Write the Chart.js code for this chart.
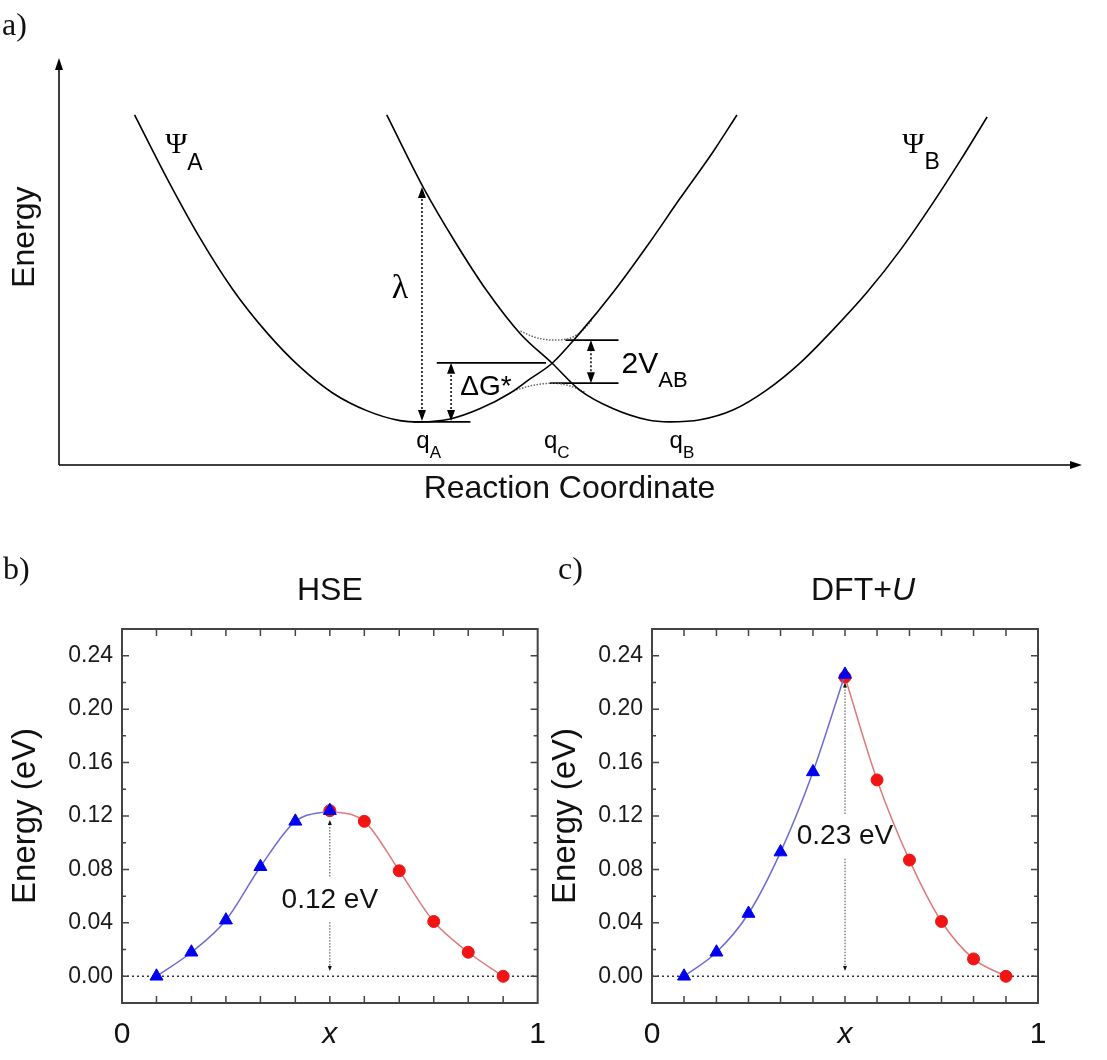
<!DOCTYPE html>
<html>
<head>
<meta charset="utf-8">
<script src="https://cdn.jsdelivr.net/npm/chart.js@4.4.1/dist/chart.umd.min.js"></script>
<style>
  html, body { margin: 0; padding: 0; background: #fff; }
  body { width: 1107px; height: 1060px; position: relative; overflow: hidden; }
  canvas { position: absolute; }
  #panelA { left: 0; top: 0; }
  #panelB { left: 0; top: 540px; }
  #panelC { left: 540px; top: 540px; }
  .tag { position: absolute; font: 32px 'Liberation Serif', 'Times New Roman', serif; line-height: 32px; color: #111; }
</style>
</head>
<body>
<canvas id="panelA" width="1107" height="520"></canvas>
<canvas id="panelB" width="560" height="520"></canvas>
<canvas id="panelC" width="567" height="520"></canvas>
<div class="tag" style="left:2px;top:8px">a)</div>
<div class="tag" style="left:3px;top:552px">b)</div>
<div class="tag" style="left:558px;top:552px">c)</div>
<script>
var FONT = "'Liberation Sans', Arial, Helvetica, sans-serif";
var SERIF = "'Liberation Serif', 'Times New Roman', serif";

// ---- panel a: diabatic curves, arbitrary units (reaction coordinate 0-10, energy 0-10) ----
var curveAx = [0.74, 1.06, 1.38, 1.70, 2.04, 2.36, 2.68, 3.02, 3.34, 3.54, 3.83, 4.12, 4.42, 4.61, 4.83, 5.10, 5.43, 5.76, 6.08, 6.41, 6.64];
var curveAy = [8.60, 7.03, 5.58, 4.32, 3.24, 2.41, 1.77, 1.33, 1.09, 1.06, 1.13, 1.38, 1.77, 2.11, 2.50, 3.24, 4.25, 5.38, 6.54, 7.71, 8.60];
var curveBx = [3.21, 3.57, 3.88, 4.19, 4.52, 4.83, 5.10, 5.43, 5.76, 5.98, 6.28, 6.60, 6.93, 7.26, 7.58, 7.91, 8.24, 8.56, 8.83, 9.09];
var curveBy = [8.60, 6.81, 5.48, 4.28, 3.22, 2.50, 1.84, 1.38, 1.11, 1.06, 1.11, 1.35, 1.84, 2.51, 3.32, 4.23, 5.28, 6.44, 7.49, 8.55];
// adiabatic split near the crossing (dotted)
var upperX = [4.52, 4.66, 4.84, 5.01, 5.12, 5.22];
var upperY = [3.29, 3.14, 3.07, 3.12, 3.29, 3.56];
var lowerX = [4.45, 4.61, 4.83, 5.01, 5.15];
var lowerY = [1.82, 1.94, 2.01, 1.94, 1.79];
// energy levels [x from, x to, energy]
var levels = [[3.47, 4.03, 1.06], [3.70, 4.77, 2.51], [4.96, 5.48, 3.07], [4.81, 5.48, 2.01]];
// double arrows [x, energy from, energy to]
var gaps = [[3.555, 1.08, 6.83], [3.84, 1.08, 2.51], [5.21, 2.01, 3.07]];

// ---- panels b, c: barrier along the path ----
var xImages1 = [0.083, 0.167, 0.25, 0.333, 0.417, 0.5];
var xImages2 = [0.5, 0.583, 0.667, 0.75, 0.833, 0.917];
var hseBlue = [0.000, 0.018, 0.042, 0.082, 0.116, 0.124];
var hseRed = [0.124, 0.116, 0.079, 0.041, 0.018, 0.000];
var dftBlue = [0.000, 0.018, 0.047, 0.093, 0.153, 0.226];
var dftRed = [0.224, 0.147, 0.087, 0.041, 0.013, 0.000];
var yTicks = [0, 0.04, 0.08, 0.12, 0.16, 0.20, 0.24];
var yMinor = [0.02, 0.06, 0.10, 0.14, 0.18, 0.22];
var xMarks = [0.083, 0.167, 0.25, 0.333, 0.417, 0.5, 0.583, 0.667, 0.75, 0.833, 0.917];
var xLabels = [0, 0.5, 1];

function xy(xs, ys) {
  return xs.map(function(v, i) { return {x: v, y: ys[i]}; });
}

function arrowHead(ctx, x, y, dir, w, h) {
  // dir = -1 points up, 1 points down
  ctx.beginPath();
  ctx.moveTo(x, y);
  ctx.lineTo(x - w / 2, y - dir * h);
  ctx.lineTo(x + w / 2, y - dir * h);
  ctx.closePath();
  ctx.fill();
}

function withSub(ctx, x, y, main, sub, mainFont, subFont, drop) {
  ctx.font = mainFont;
  ctx.fillText(main, x, y);
  var w = ctx.measureText(main).width;
  ctx.font = subFont;
  ctx.fillText(sub, x + w, y + drop);
}

// Draw axes arrows, arrows and labels for panel a
var marcusPlugin = {
  id: 'marcus',
  afterDatasetsDraw: function(chart) {
    var ctx = chart.ctx, a = chart.chartArea;
    var sx = chart.scales.x, sy = chart.scales.y;
    ctx.save();
    ctx.fillStyle = '#000';
    ctx.strokeStyle = '#000';
    ctx.lineWidth = 1.5;

    // axes with arrow heads
    ctx.beginPath();
    ctx.moveTo(a.left, a.bottom);
    ctx.lineTo(a.left, a.top + 8);
    ctx.moveTo(a.left, a.bottom);
    ctx.lineTo(a.right - 8, a.bottom);
    ctx.stroke();
    arrowHead(ctx, a.left, a.top, -1, 8, 12);
    ctx.beginPath();
    ctx.moveTo(a.right + 2, a.bottom);
    ctx.lineTo(a.right - 10, a.bottom - 4);
    ctx.lineTo(a.right - 10, a.bottom + 4);
    ctx.closePath();
    ctx.fill();

    // dotted double arrows
    gaps.forEach(function(g) {
      var px = sx.getPixelForValue(g[0]);
      var y0 = sy.getPixelForValue(g[1]), y1 = sy.getPixelForValue(g[2]);
      ctx.setLineDash([2, 2]);
      ctx.lineWidth = 1.5;
      ctx.beginPath();
      ctx.moveTo(px, y0 - 8);
      ctx.lineTo(px, y1 + 8);
      ctx.stroke();
      ctx.setLineDash([]);
      arrowHead(ctx, px, y1, -1, 8, 11);
      arrowHead(ctx, px, y0, 1, 8, 11);
    });

    // labels
    ctx.textAlign = 'left';
    ctx.textBaseline = 'alphabetic';
    var P = function(x, y) { return [sx.getPixelForValue(x), sy.getPixelForValue(y)]; };
    var p;
    p = P(1.04, 7.67); withSub(ctx, p[0], p[1], 'Ψ', 'A', '30px ' + SERIF, '23px ' + FONT, 17);
    p = P(8.26, 7.67); withSub(ctx, p[0], p[1], 'Ψ', 'B', '30px ' + SERIF, '23px ' + FONT, 16);
    p = P(3.26, 4.10); ctx.font = '34px ' + SERIF; ctx.fillText('λ', p[0], p[1]);
    p = P(3.93, 1.72); ctx.font = '28px ' + FONT; ctx.fillText('ΔG*', p[0], p[1]);
    p = P(5.51, 2.26); withSub(ctx, p[0], p[1], '2V', 'AB', '30px ' + FONT, '22px ' + FONT, 14);
    p = P(3.50, 0.42); withSub(ctx, p[0], p[1], 'q', 'A', '24px ' + FONT, '17px ' + FONT, 10);
    p = P(4.75, 0.42); withSub(ctx, p[0], p[1], 'q', 'C', '24px ' + FONT, '17px ' + FONT, 10);
    p = P(5.98, 0.42); withSub(ctx, p[0], p[1], 'q', 'B', '24px ' + FONT, '17px ' + FONT, 10);

    // vertical axis title
    ctx.translate(a.left - 34, sy.getPixelForValue(5.6));
    ctx.rotate(-Math.PI / 2);
    ctx.textAlign = 'center';
    ctx.textBaseline = 'middle';
    ctx.font = '32px ' + FONT;
    ctx.fillStyle = '#111';
    ctx.fillText('Energy', 0, 0);
    ctx.restore();
  }
};

var solid = {borderColor: '#000', borderWidth: 1.6, pointRadius: 0, cubicInterpolationMode: 'monotone'};
var dotted = {borderColor: '#666', borderWidth: 1.5, borderDash: [1.5, 1.5], pointRadius: 0, cubicInterpolationMode: 'monotone'};

var marcusSets = [
  Object.assign({data: xy(curveAx, curveAy)}, solid),
  Object.assign({data: xy(curveBx, curveBy)}, solid),
  Object.assign({data: xy(upperX, upperY)}, dotted),
  Object.assign({data: xy(lowerX, lowerY)}, dotted)
];
levels.forEach(function(l) {
  marcusSets.push({data: [{x: l[0], y: l[2]}, {x: l[1], y: l[2]}], borderColor: '#000', borderWidth: 1.8, pointRadius: 0});
});

new Chart(document.getElementById('panelA'), {
  type: 'line',
  data: {datasets: marcusSets},
  options: {
    responsive: false, animation: false, events: [],
    layout: {padding: {left: 59, right: 27, top: 58, bottom: 0}, autoPadding: false},
    scales: {
      x: {
        type: 'linear', min: 0, max: 10,
        grid: {display: false, drawTicks: false}, border: {display: false},
        ticks: {display: false},
        afterFit: function(s) { s.height = 55; },
        title: {display: true, text: 'Reaction Coordinate', color: '#111', font: {family: FONT, size: 32}, padding: {top: 0, bottom: 12}}
      },
      y: {type: 'linear', min: 0, max: 10, display: false}
    },
    plugins: {legend: {display: false}, tooltip: {enabled: false}}
  },
  plugins: [marcusPlugin]
});

// Frame, inward ticks, zero line, barrier arrow and title for panels b and c
var framePlugin = {
  id: 'frame',
  beforeDatasetsDraw: function(chart, args, o) {
    var ctx = chart.ctx, a = chart.chartArea;
    var sx = chart.scales.x, sy = chart.scales.y;
    ctx.save();
    ctx.strokeStyle = '#333';
    ctx.fillStyle = '#111';
    ctx.lineWidth = 1.5;
    ctx.setLineDash([2, 3]);
    var y0 = sy.getPixelForValue(0);
    ctx.beginPath();
    ctx.moveTo(a.left, y0);
    ctx.lineTo(a.right, y0);
    ctx.stroke();

    var xm = sx.getPixelForValue(o.arrow[0]);
    var yb = sy.getPixelForValue(o.arrow[1]), yt = sy.getPixelForValue(o.arrow[2]);
    var yl = sy.getPixelForValue(o.labelY);
    ctx.lineWidth = 1;
    ctx.strokeStyle = '#444';
    ctx.setLineDash([1.5, 1.5]);
    ctx.beginPath();
    ctx.moveTo(xm, yt + 4);
    ctx.lineTo(xm, yl - 22);
    ctx.moveTo(xm, yl + 22);
    ctx.lineTo(xm, yb - 4);
    ctx.stroke();
    ctx.setLineDash([]);
    arrowHead(ctx, xm, yt, -1, 4, 5);
    arrowHead(ctx, xm, yb, 1, 4, 5);

    ctx.font = '28px ' + FONT;
    ctx.textAlign = 'center';
    ctx.textBaseline = 'middle';
    ctx.fillText(o.label, xm, yl);
    ctx.restore();
  },
  afterDraw: function(chart, args, o) {
    var ctx = chart.ctx, a = chart.chartArea;
    var sx = chart.scales.x, sy = chart.scales.y;
    ctx.save();
    ctx.strokeStyle = '#444';
    ctx.lineWidth = 2;
    ctx.strokeRect(a.left, a.top, a.right - a.left, a.bottom - a.top);
    ctx.lineWidth = 1.5;
    ctx.beginPath();
    xMarks.forEach(function(v) {
      var px = sx.getPixelForValue(v);
      ctx.moveTo(px, a.top); ctx.lineTo(px, a.top + 7);
      ctx.moveTo(px, a.bottom); ctx.lineTo(px, a.bottom - 7);
    });
    yTicks.forEach(function(v) {
      var py = sy.getPixelForValue(v);
      ctx.moveTo(a.left, py); ctx.lineTo(a.left + 7, py);
      ctx.moveTo(a.right, py); ctx.lineTo(a.right - 7, py);
    });
    yMinor.forEach(function(v) {
      var py = sy.getPixelForValue(v);
      ctx.moveTo(a.left, py); ctx.lineTo(a.left + 4, py);
      ctx.moveTo(a.right, py); ctx.lineTo(a.right - 4, py);
    });
    ctx.stroke();

    // title, possibly mixing upright and italic parts
    ctx.fillStyle = '#111';
    ctx.textBaseline = 'middle';
    ctx.textAlign = 'left';
    var total = 0;
    o.title.forEach(function(t) {
      ctx.font = (t.italic ? 'italic ' : '') + '32px ' + FONT;
      total += ctx.measureText(t.text).width;
    });
    var tx = (a.left + a.right) / 2 + o.titleShift - total / 2;
    o.title.forEach(function(t) {
      ctx.font = (t.italic ? 'italic ' : '') + '32px ' + FONT;
      ctx.fillText(t.text, tx, 51);
      tx += ctx.measureText(t.text).width;
    });
    ctx.restore();
  }
};

function barrierChart(id, blue, red, axisW, padRight, o) {
  return new Chart(document.getElementById(id), {
    type: 'line',
    data: {datasets: [
      {data: xy(xImages1, blue), borderColor: '#6c6cd6', borderWidth: 1.5, cubicInterpolationMode: 'monotone',
       pointStyle: 'triangle', pointRadius: 7.5, pointBackgroundColor: '#0000ee', pointBorderColor: '#0000ee', pointBorderWidth: 1},
      {data: xy(xImages2, red), borderColor: '#e07a7a', borderWidth: 1.5, cubicInterpolationMode: 'monotone',
       pointStyle: 'circle', pointRadius: 6, pointBackgroundColor: '#f01414', pointBorderColor: '#f01414', pointBorderWidth: 1}
    ]},
    options: {
      responsive: false, animation: false, events: [],
      layout: {padding: {left: 0, right: padRight, top: 89, bottom: 0}, autoPadding: false},
      scales: {
        x: {
          type: 'linear', min: 0, max: 1,
          afterFit: function(s) { s.height = 57; },
          afterBuildTicks: function(s) { s.ticks = xLabels.map(function(v) { return {value: v}; }); },
          grid: {display: false, drawTicks: false}, border: {display: false},
          ticks: {
            padding: 14, color: '#111', maxRotation: 0, autoSkip: false,
            font: function(c) {
              var it = c.tick && c.tick.value === 0.5;
              return {family: FONT, size: 30, style: it ? 'italic' : 'normal'};
            },
            callback: function(v) { return v === 0.5 ? 'x' : String(v); }
          }
        },
        y: {
          type: 'linear', min: -0.02, max: 0.26,
          afterFit: function(s) { s.width = axisW; },
          afterBuildTicks: function(s) { s.ticks = yTicks.map(function(v) { return {value: v}; }); },
          grid: {display: false, drawTicks: false}, border: {display: false},
          ticks: {padding: 9, color: '#1a1a1a', font: {family: FONT, size: 23}, callback: function(v) { return v.toFixed(2); }},
          title: {display: true, text: 'Energy (eV)', color: '#111', font: {family: FONT, size: 33}, padding: {top: 6, bottom: 0}}
        }
      },
      plugins: {legend: {display: false}, tooltip: {enabled: false}, frame: o}
    },
    plugins: [framePlugin]
  });
}

barrierChart('panelB', hseBlue, hseRed, 122, 20, {
  arrow: [0.5, 0.004, 0.117], labelY: 0.057, label: '0.12 eV',
  title: [{text: 'HSE'}], titleShift: 0
});
barrierChart('panelC', dftBlue, dftRed, 112, 69, {
  arrow: [0.5, 0.004, 0.220], labelY: 0.1045, label: '0.23 eV',
  title: [{text: 'DFT+'}, {text: 'U', italic: true}], titleShift: 18
});
</script>
</body>
</html>
